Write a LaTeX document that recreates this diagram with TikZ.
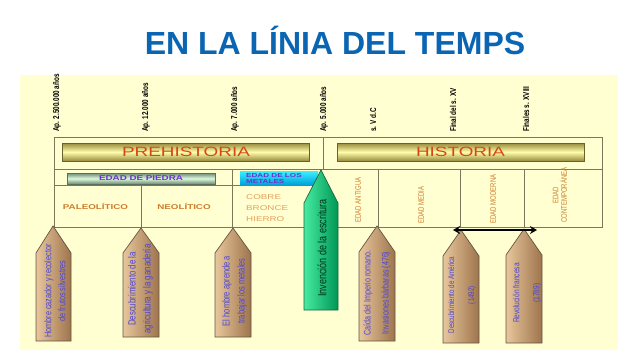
\documentclass[tikz,border=0pt]{standalone}
\usepackage{fontspec}
\setmainfont{Liberation Sans}
\newfontfamily\estrecha[FakeStretch=0.75]{Liberation Sans}
\newfontfamily\ancha[FakeStretch=1.4]{Liberation Sans}
\usetikzlibrary{arrows.meta, positioning}

\definecolor{titulo}{RGB}{10,102,178}
\definecolor{fondo}{RGB}{255,255,210}
\definecolor{linea}{RGB}{125,118,90}
\definecolor{oliva}{RGB}{150,140,60}
\definecolor{crema}{RGB}{255,252,170}
\definecolor{salvia}{RGB}{110,140,115}
\definecolor{menta}{RGB}{220,248,222}
\definecolor{cianclaro}{RGB}{60,240,255}
\definecolor{cianoscuro}{RGB}{0,160,215}
\definecolor{morado}{RGB}{112,48,208}
\definecolor{rojizo}{RGB}{215,70,20}
\definecolor{ocre}{RGB}{205,125,45}
\definecolor{ocreclaro}{RGB}{228,160,95}
\definecolor{tanclaro}{RGB}{232,198,155}
\definecolor{tanoscuro}{RGB}{158,116,76}
\definecolor{tanborde}{RGB}{100,85,70}
\definecolor{azulnota}{RGB}{75,70,215}
\definecolor{verdeclaro}{RGB}{70,235,160}
\definecolor{verdeoscuro}{RGB}{0,150,85}
\definecolor{verdeborde}{RGB}{30,100,65}
\definecolor{verdetexto}{RGB}{0,50,25}

\begin{document}
\begin{tikzpicture}[x=1pt, y=-1pt,
  fecha/.style={rotate=90, anchor=west, inner sep=0pt, font=\estrecha\bfseries\fontsize{8.5}{9}\selectfont},
  banda/.style={draw=oliva!70!black, top color=oliva, bottom color=oliva, middle color=crema, inner sep=0pt},
  marco/.style={draw=linea, line width=0.8pt},
  lapiz/.style={draw=tanborde, left color=tanclaro, right color=tanoscuro, line width=0.7pt},
  nota/.style={rotate=90, align=center, inner sep=0pt, text=azulnota},
  epoca/.style={rotate=90, align=center, inner sep=0pt, text=ocre, font=\estrecha\fontsize{8}{8.5}\selectfont},
  celda/.style={inner sep=0pt, text=ocre, font=\ancha\bfseries\fontsize{7}{8}\selectfont}]
  \useasboundingbox (0,0) rectangle (638,359);
  \fill[white] (0,0) rectangle (638,359);

  % ---------- titulo ----------
  \node[text=titulo, font=\bfseries\fontsize{32}{36}\selectfont] (titulo) at (335,40) {EN LA LÍNIA DEL TEMPS};

  % ---------- fondo y marco ----------
  \fill[fondo] (20,75) rectangle (618,350);
  \draw[marco] (54,137) rectangle (602,227);
  \draw[marco] (54,169) -- (602,169);
  \draw[marco] (323,137) -- (323,169);
  \draw[marco] (54,185) -- (240,185);
  \draw[marco] (141,185) -- (141,227);
  \draw[marco] (232,169) -- (232,227);
  \draw[marco] (378,169) -- (378,227);
  \draw[marco] (460,169) -- (460,227);
  \draw[marco] (524,169) -- (524,227);

  % ---------- fechas ----------
  \node[fecha] (f1) at (57,132) {Ap. 2.500.000 años};
  \node[fecha] (f2) at (146,132) {Ap. 12.000 años};
  \node[fecha] (f3) at (235,132) {Ap. 7.000 años};
  \node[fecha] (f4) at (324,132) {Ap. 5.000 años};
  \node[fecha] (f5) at (373,132) {s. V d.C};
  \node[fecha] (f6) at (453,132) {Final del s. XV};
  \node[fecha] (f7) at (526,132) {Finales s. XVIII};

  % ---------- bandas ----------
  \node[banda, minimum width=247, minimum height=18, text=rojizo, font=\ancha\fontsize{13.5}{14}\selectfont]
    (prehistoria) at (186,152) {PREHISTORIA};
  \node[banda, minimum width=247, minimum height=18, text=rojizo, font=\ancha\fontsize{13.5}{14}\selectfont]
    (historia) at (460.5,152) {HISTORIA};
  \node[draw=salvia!80!black, top color=salvia, bottom color=salvia, middle color=menta, inner sep=0pt,
    minimum width=148, minimum height=11, text=morado, font=\ancha\bfseries\fontsize{7}{8}\selectfont]
    (piedra) at (141,178.5) {EDAD DE PIEDRA};
  \node[top color=cianclaro, bottom color=cianoscuro, inner sep=0pt, minimum width=78, minimum height=14]
    (metales) at (279,178) {};
  \node[anchor=west, align=left, inner sep=0pt, text=morado, font=\ancha\bfseries\fontsize{5.8}{6.5}\selectfont]
    (metalestxt) at (246,178.5) {EDAD DE LOS\\METALES};

  % ---------- celdas ----------
  \node[celda] (paleo) at (95.5,206) {PALEOLÍTICO};
  \node[celda] (neo) at (184,206) {NEOLÍTICO};
  \node[anchor=west, align=left, inner sep=0pt, text=ocreclaro, font=\ancha\fontsize{7}{11}\selectfont]
    (metalesl) at (246,208) {COBRE\\BRONCE\\HIERRO};
  \node[epoca] (antigua) at (358,200) {EDAD ANTIGUA};
  \node[epoca] (media) at (421,205) {EDAD MEDIA};
  \node[epoca] (moderna) at (493,199) {EDAD MODERNA};
  \node[epoca] (contemp) at (560,195) {EDAD\\CONTEMPORÁNEA};

  % ---------- lapices ----------
  \shadedraw[lapiz] (53,226) -- (71,253) -- (71,341) -- (36,341) -- (36,253) -- cycle;
  \shadedraw[lapiz] (141,228) -- (159,253) -- (159,337) -- (123,337) -- (123,253) -- cycle;
  \shadedraw[lapiz] (233,228) -- (251,253) -- (251,337) -- (215,337) -- (215,253) -- cycle;
  \shadedraw[lapiz] (377,226) -- (395,252) -- (395,341) -- (359,341) -- (359,252) -- cycle;
  \shadedraw[lapiz] (461,230) -- (479,256) -- (479,343) -- (443,343) -- (443,256) -- cycle;
  \shadedraw[lapiz] (524,229) -- (542,255) -- (542,343) -- (506,343) -- (506,255) -- cycle;
  \shadedraw[draw=verdeborde, left color=verdeclaro, right color=verdeoscuro, line width=0.7pt]
    (321,170) -- (338,203) -- (338,310) -- (304,310) -- (304,203) -- cycle;

  \node[nota, font=\estrecha\fontsize{9.7}{14}\selectfont] (cazador) at (55,291)
    {Hombre cazador y recolector\\de frutos silvestres};
  \node[nota, font=\estrecha\fontsize{10.5}{15}\selectfont] (agricultura) at (140.5,289)
    {Descubrimiento de la\\agricultura y la ganadería};
  \node[nota, font=\estrecha\fontsize{10}{15}\selectfont] (metalurgia) at (234.5,291)
    {El hombre aprende a\\trabajar los metales};
  \node[nota, font=\estrecha\fontsize{9.5}{18}\selectfont] (roma) at (377,293)
    {Caída del Imperio romano.\\Invasiones bárbaras (476)};
  \node[nota, font=\estrecha\fontsize{8.3}{20}\selectfont] (america) at (462,295)
    {Descubrimiento de América\\(1492)};
  \node[nota, font=\estrecha\fontsize{8.8}{20}\selectfont] (revolucion) at (527,293)
    {Revolución francesa\\(1789)};
  \node[rotate=90, inner sep=0pt, text=verdetexto, font=\estrecha\fontsize{12}{14}\selectfont]
    (escritura) at (322,248) {Invención de la escritura};

  % ---------- flecha ----------
  \coordinate (flechaI) at (453,230);
  \coordinate (flechaD) at (537,230);
  \draw[{Stealth[length=7pt,width=8pt]}-{Stealth[length=7pt,width=8pt]}, line width=2.2pt] (flechaI) -- (flechaD);
\end{tikzpicture}
\end{document}
